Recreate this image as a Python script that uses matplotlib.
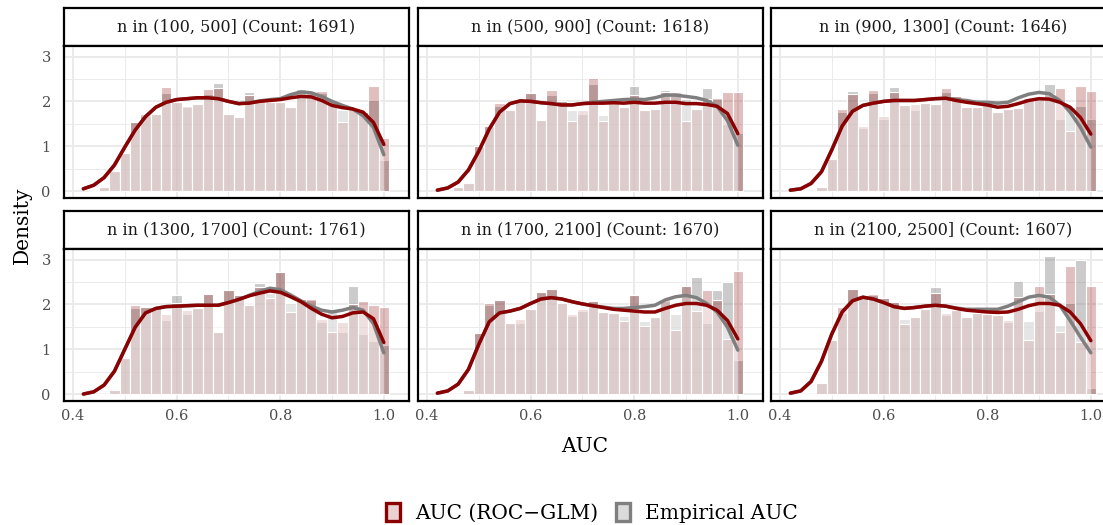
import matplotlib
matplotlib.use("Agg")
import matplotlib.pyplot as plt
from matplotlib.patches import Patch

# ---------------------------------------------------------------------------
# Data

BIN_CENTERS = [0.44, 0.46, 0.48, 0.50, 0.52, 0.54, 0.56, 0.58, 0.60, 0.62,
               0.64, 0.66, 0.68, 0.70, 0.72, 0.74, 0.76, 0.78, 0.80, 0.82,
               0.84, 0.86, 0.88, 0.90, 0.92, 0.94, 0.96, 0.98, 1.00]
BIN_WIDTH = 0.02

DENS_X = [0.42, 0.44, 0.46, 0.48, 0.50, 0.52, 0.54, 0.56, 0.58, 0.60,
          0.62, 0.64, 0.66, 0.68, 0.70, 0.72, 0.74, 0.76, 0.78, 0.80,
          0.82, 0.84, 0.86, 0.88, 0.90, 0.92, 0.94, 0.96, 0.98, 1.00]

PANEL_TITLES = [
    "n in (100, 500] (Count: 1691)",
    "n in (500, 900] (Count: 1618)",
    "n in (900, 1300] (Count: 1646)",
    "n in (1300, 1700] (Count: 1761)",
    "n in (1700, 2100] (Count: 1670)",
    "n in (2100, 2500] (Count: 1607)",
]

# histogram densities per bin: AUC (ROC-GLM) and Empirical AUC
hist_roc_1 = [0.02, 0.08, 0.45, 0.85, 1.53, 1.72, 1.72, 2.33, 1.98, 1.89, 1.95, 2.27, 2.29, 1.72, 1.66,
              2.14, 1.98, 1.98, 1.98, 1.87, 2.22, 2.20, 2.23, 1.98, 1.53, 1.82, 1.76, 2.34, 1.19]
hist_emp_1 = [0.02, 0.08, 0.45, 0.85, 1.53, 1.68, 1.72, 2.19, 1.98, 1.87, 1.95, 2.17, 2.42, 1.72, 1.66,
              2.20, 1.98, 1.98, 1.98, 1.87, 2.28, 2.20, 2.18, 1.98, 1.80, 1.82, 1.76, 2.04, 0.70]

hist_roc_2 = [0.00, 0.09, 0.19, 1.00, 1.45, 1.96, 1.81, 2.04, 2.19, 1.58, 2.25, 2.00, 1.57, 1.81, 2.52,
              1.57, 2.08, 1.87, 2.14, 1.81, 1.83, 2.20, 2.21, 1.57, 1.83, 2.06, 2.08, 2.21, 2.21]
hist_emp_2 = [0.00, 0.09, 0.19, 1.00, 1.45, 1.89, 1.81, 2.04, 2.19, 1.58, 2.14, 2.00, 1.80, 1.72, 2.39,
              1.70, 2.10, 1.87, 2.34, 1.81, 1.83, 2.25, 2.18, 2.06, 1.83, 2.29, 2.05, 1.50, 1.30]

hist_roc_3 = [0.00, 0.00, 0.08, 0.72, 1.82, 2.17, 1.44, 2.25, 1.68, 2.21, 1.91, 1.95, 1.96, 1.95, 2.30,
              2.11, 1.87, 1.87, 1.98, 1.76, 1.83, 1.85, 2.08, 2.06, 2.17, 2.29, 1.34, 2.35, 2.23]
hist_emp_3 = [0.00, 0.00, 0.08, 0.72, 1.76, 2.23, 1.40, 2.19, 1.61, 2.31, 1.91, 1.80, 1.96, 1.95, 2.21,
              2.13, 1.90, 1.87, 1.98, 1.76, 1.83, 1.85, 2.08, 2.06, 2.38, 1.60, 1.87, 1.90, 1.60]

hist_roc_4 = [0.00, 0.00, 0.08, 0.81, 1.98, 1.95, 1.93, 1.79, 2.04, 1.87, 1.91, 2.23, 1.39, 2.31, 2.20,
              1.98, 2.39, 2.14, 2.72, 1.83, 2.11, 2.11, 1.68, 1.38, 1.60, 2.00, 2.08, 1.98, 1.95]
hist_emp_4 = [0.00, 0.00, 0.08, 0.81, 1.91, 1.95, 1.93, 1.66, 2.20, 1.78, 1.91, 2.23, 1.39, 2.31, 2.20,
              1.98, 2.48, 2.25, 2.72, 2.02, 2.11, 2.10, 1.61, 1.83, 1.38, 2.42, 1.34, 1.19, 1.10]

hist_roc_5 = [0.00, 0.00, 0.09, 1.36, 2.04, 2.10, 1.59, 1.68, 1.89, 2.27, 2.35, 2.02, 1.78, 1.89, 2.08,
              1.83, 1.81, 1.63, 2.21, 1.51, 1.72, 2.11, 1.43, 2.42, 1.86, 2.33, 2.10, 1.23, 2.74]
hist_emp_5 = [0.00, 0.00, 0.09, 1.36, 1.98, 2.10, 1.59, 1.59, 1.89, 2.27, 2.35, 2.02, 1.73, 1.86, 2.08,
              1.83, 1.81, 1.73, 2.21, 1.62, 1.72, 2.08, 1.78, 2.42, 2.60, 1.58, 2.33, 2.50, 0.77]

hist_roc_6 = [0.00, 0.00, 0.24, 1.21, 1.95, 2.35, 2.17, 2.23, 2.14, 2.06, 1.57, 1.72, 1.89, 2.25, 1.80,
              1.87, 1.72, 1.81, 1.78, 1.76, 1.66, 2.17, 1.20, 2.42, 2.23, 1.38, 2.86, 1.17, 2.42]
hist_emp_6 = [0.00, 0.00, 0.24, 1.21, 1.81, 2.35, 2.17, 2.20, 2.14, 2.06, 1.68, 1.72, 1.89, 2.39, 1.76,
              1.87, 1.72, 1.81, 1.78, 1.76, 1.61, 2.53, 1.64, 1.85, 3.07, 1.55, 2.02, 2.98, 0.13]

# kernel density curves, sampled at DENS_X
dens_roc_1 = [0.05, 0.13, 0.30, 0.58, 0.98, 1.36, 1.66, 1.87, 1.98, 2.04, 2.06, 2.08, 2.08, 2.06, 2.00,
              1.95, 1.96, 2.00, 2.02, 2.04, 2.08, 2.11, 2.10, 2.02, 1.91, 1.86, 1.83, 1.76, 1.53, 1.04]
dens_emp_1 = [0.05, 0.13, 0.30, 0.58, 0.98, 1.36, 1.66, 1.87, 1.98, 2.04, 2.06, 2.08, 2.08, 2.06, 2.00,
              1.95, 1.97, 2.01, 2.04, 2.06, 2.15, 2.21, 2.19, 2.11, 2.00, 1.91, 1.83, 1.68, 1.42, 0.81]

dens_roc_2 = [0.02, 0.07, 0.20, 0.47, 0.89, 1.38, 1.76, 1.95, 2.01, 2.00, 1.97, 1.95, 1.92, 1.92, 1.95,
              1.96, 1.96, 1.97, 1.96, 1.98, 1.96, 1.96, 1.98, 1.98, 1.95, 1.95, 1.93, 1.89, 1.73, 1.28]
dens_emp_2 = [0.02, 0.07, 0.20, 0.47, 0.89, 1.38, 1.76, 1.95, 2.01, 2.00, 1.97, 1.95, 1.92, 1.92, 1.95,
              1.98, 2.00, 2.02, 2.04, 2.05, 2.04, 2.08, 2.14, 2.14, 2.11, 2.08, 2.02, 1.89, 1.57, 1.02]

dens_roc_3 = [0.02, 0.05, 0.17, 0.43, 0.92, 1.45, 1.78, 1.91, 1.96, 2.00, 2.02, 2.02, 2.02, 2.04, 2.06,
              2.07, 2.02, 1.98, 1.95, 1.92, 1.87, 1.89, 1.95, 2.02, 2.06, 2.05, 1.98, 1.87, 1.64, 1.27]
dens_emp_3 = [0.02, 0.05, 0.17, 0.43, 0.92, 1.45, 1.78, 1.91, 1.96, 2.00, 2.02, 2.02, 2.02, 2.04, 2.06,
              2.07, 2.04, 2.02, 1.98, 1.98, 1.96, 1.98, 2.08, 2.16, 2.20, 2.17, 2.02, 1.76, 1.42, 0.98]

dens_roc_4 = [0.00, 0.05, 0.20, 0.51, 1.00, 1.49, 1.81, 1.91, 1.95, 1.96, 1.97, 1.98, 1.98, 1.98, 2.04,
              2.11, 2.19, 2.25, 2.30, 2.27, 2.17, 2.06, 1.91, 1.78, 1.70, 1.73, 1.81, 1.83, 1.68, 1.15]
dens_emp_4 = [0.00, 0.05, 0.20, 0.51, 1.00, 1.49, 1.81, 1.91, 1.95, 1.96, 1.97, 1.98, 1.98, 1.98, 2.04,
              2.11, 2.20, 2.29, 2.36, 2.33, 2.21, 2.08, 1.96, 1.87, 1.83, 1.87, 1.93, 1.87, 1.57, 0.92]

dens_roc_5 = [0.02, 0.07, 0.22, 0.55, 1.11, 1.61, 1.81, 1.85, 1.91, 2.02, 2.12, 2.15, 2.12, 2.06, 2.01,
              1.97, 1.93, 1.89, 1.87, 1.85, 1.83, 1.83, 1.91, 1.98, 2.02, 2.02, 1.98, 1.87, 1.64, 1.23]
dens_emp_5 = [0.02, 0.07, 0.22, 0.55, 1.11, 1.61, 1.81, 1.85, 1.91, 2.02, 2.12, 2.15, 2.12, 2.06, 2.01,
              1.97, 1.94, 1.91, 1.91, 1.93, 1.95, 1.98, 2.10, 2.17, 2.20, 2.15, 2.02, 1.83, 1.49, 0.98]

dens_roc_6 = [0.02, 0.07, 0.28, 0.73, 1.34, 1.83, 2.08, 2.16, 2.12, 2.04, 1.95, 1.91, 1.93, 1.96, 1.98,
              1.96, 1.91, 1.87, 1.85, 1.83, 1.82, 1.83, 1.89, 1.97, 2.02, 2.02, 1.98, 1.83, 1.57, 1.19]
dens_emp_6 = [0.02, 0.07, 0.28, 0.73, 1.34, 1.83, 2.08, 2.16, 2.12, 2.04, 1.95, 1.91, 1.93, 1.96, 1.98,
              1.96, 1.92, 1.89, 1.89, 1.89, 1.89, 1.96, 2.06, 2.16, 2.20, 2.16, 1.98, 1.64, 1.27, 0.92]

HIST_ROC = [hist_roc_1, hist_roc_2, hist_roc_3, hist_roc_4, hist_roc_5, hist_roc_6]
HIST_EMP = [hist_emp_1, hist_emp_2, hist_emp_3, hist_emp_4, hist_emp_5, hist_emp_6]
DENS_ROC = [dens_roc_1, dens_roc_2, dens_roc_3, dens_roc_4, dens_roc_5, dens_roc_6]
DENS_EMP = [dens_emp_1, dens_emp_2, dens_emp_3, dens_emp_4, dens_emp_5, dens_emp_6]

X_TICKS = [0.4, 0.6, 0.8, 1.0]
X_TICK_LABELS = ["0.4", "0.6", "0.8", "1.0"]
Y_TICKS = [0, 1, 2, 3]
Y_TICK_LABELS = ["0", "1", "2", "3"]

LABEL_ROC = "AUC (ROC\u2212GLM)"
LABEL_EMP = "Empirical AUC"

# ---------------------------------------------------------------------------
# Style

W, H = 1103, 525
FONT = "DejaVu Serif"
RED = "#8b0000"
GRAY = "#7f7f7f"
GRID = "#ebebeb"

plt.rcParams["font.family"] = FONT

COL_LEFT = [64, 418, 771]
PANEL_W = 345
STRIP_TOP = [8, 211]
STRIP_H = 38
PANEL_H = 152

fig = plt.figure(figsize=(W / 100, H / 100), dpi=100)


def px_axes(left, top, width, height):
    return fig.add_axes([left / W, 1 - (top + height) / H, width / W, height / H])


for i, title in enumerate(PANEL_TITLES):
    row, col = divmod(i, 3)

    # strip
    strip = px_axes(COL_LEFT[col], STRIP_TOP[row], PANEL_W, STRIP_H)
    strip.set_xticks([])
    strip.set_yticks([])
    for sp in strip.spines.values():
        sp.set_linewidth(1.6)
        sp.set_color("black")
    strip.text(0.5, 0.5, title, ha="center", va="center",
               fontsize=11.5, color="#1a1a1a", transform=strip.transAxes)

    # panel
    ax = px_axes(COL_LEFT[col], STRIP_TOP[row] + STRIP_H, PANEL_W, PANEL_H)
    ax.set_axisbelow(True)

    ax.bar(BIN_CENTERS, HIST_EMP[i], width=BIN_WIDTH,
           color=(0.498, 0.498, 0.498, 0.40), edgecolor="white", linewidth=0.8)
    ax.bar(BIN_CENTERS, HIST_ROC[i], width=BIN_WIDTH,
           color=(0.545, 0.0, 0.0, 0.25), edgecolor="white", linewidth=0.8)

    # density areas (white, translucent) and lines
    ax.fill_between(DENS_X, 0, DENS_EMP[i], color="white", alpha=0.3, linewidth=0)
    ax.fill_between(DENS_X, 0, DENS_ROC[i], color="white", alpha=0.3, linewidth=0)
    ax.plot(DENS_X, DENS_EMP[i], color=GRAY, lw=2.5, solid_capstyle="round",
            solid_joinstyle="round")
    ax.plot(DENS_X, DENS_ROC[i], color=RED, lw=2.5, solid_capstyle="round",
            solid_joinstyle="round")

    ax.set_xlim(0.3826, 1.0486)
    ax.set_ylim(-0.155, 3.235)
    ax.set_xticks(X_TICKS)
    ax.set_xticks([0.5, 0.7, 0.9], minor=True)
    ax.set_yticks(Y_TICKS)
    ax.set_yticks([0.5, 1.5, 2.5], minor=True)
    ax.grid(which="major", color=GRID, lw=1.4)
    ax.grid(which="minor", color=GRID, lw=0.7)
    ax.tick_params(which="both", length=0)

    if row == 1:
        ax.set_xticklabels(X_TICK_LABELS)
        ax.tick_params(axis="x", pad=5.5, labelsize=10.5, labelcolor="#4d4d4d")
    else:
        ax.set_xticklabels([])
    if col == 0:
        ax.set_yticklabels(Y_TICK_LABELS)
        ax.tick_params(axis="y", pad=9.5, labelsize=10.5, labelcolor="#4d4d4d")
    else:
        ax.set_yticklabels([])

    for sp in ax.spines.values():
        sp.set_linewidth(1.6)
        sp.set_color("black")

# axis titles
fig.text(585 / W, 1 - 447 / H, "AUC", ha="center", va="center", fontsize=14.5)
fig.text(22 / W, 1 - 225 / H, "Density", ha="center", va="center",
         fontsize=14.5, rotation=90)

# legend
key_roc = Patch(facecolor="#ebd2d2", edgecolor=RED, linewidth=2.4)
key_emp = Patch(facecolor="#dbdbdb", edgecolor=GRAY, linewidth=2.4)
fig.legend([key_roc, key_emp], [LABEL_ROC, LABEL_EMP],
           loc="center", bbox_to_anchor=(592 / W, 1 - 513 / H),
           ncol=2, frameon=False, fontsize=14.5,
           handlelength=0.7, handleheight=1.0,
           handletextpad=0.75, columnspacing=0.85)

fig.savefig("out.png", dpi=100)
